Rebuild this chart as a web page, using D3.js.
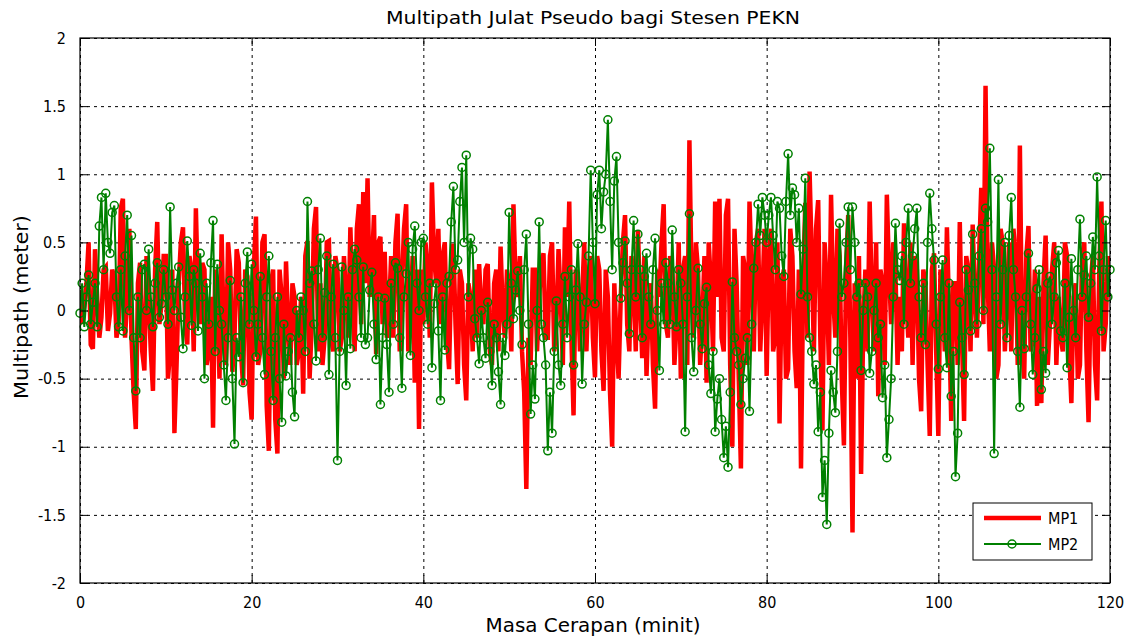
<!DOCTYPE html>
<html>
<head>
<meta charset="utf-8">
<script src="https://cdn.jsdelivr.net/npm/d3@7"></script>
<style>
body { margin:0; background:#fff; }
text { font-family: "DejaVu Sans Condensed", "DejaVu Sans", sans-serif; }
</style>
</head>
<body>
<div id="chart"></div>
<script>
// masa cerapan tiap 15 saat, 0 hingga 120 minit (satu baris = 10 minit)
var step = 0.25;
var mp1 = [
 0.15,-0.1,0.05,0.2,0.5,-0.25,-0.28,0.45,0.1,-0.2,-0.05,0.3,0.32,-0.15,-0.02,0.3,0.25,-0.2,-0.1,0.75,0.82,-0.2,0.1,0.6,-0.2,-0.6,-0.87,0.2,0.35,-0.3,-0.44,0.4,0.1,-0.3,-0.59,0.3,0.65,-0.1,0.05,0.4,
 0.4,-0.5,-0.3,0.3,-0.9,-0.4,0.2,0.5,0.61,-0.1,-0.25,0.4,0.3,-0.3,0.75,0.1,-0.1,0.35,0.3,-0.4,-0.3,0.1,-0.86,0.3,0.2,-0.5,0.56,-0.2,-0.4,0.5,0.3,-0.45,-0.2,0.45,0.35,-0.3,-0.55,0.3,0.25,-0.6,
 -0.8,0.3,0.69,-0.4,-0.3,0.5,0.56,-0.7,-1.03,0.2,0.3,-0.8,-1.05,0.3,0.1,-0.5,0.36,-0.1,-0.4,0.2,0.1,-0.4,-0.3,0.1,-0.61,0.4,0.51,-0.5,-0.1,0.6,0.76,-0.3,0.2,-0.4,-0.2,0.5,0.51,-0.2,-0.3,0.4,
 0.3,-0.3,-0.2,0.4,0.1,-0.2,0.61,0.1,-0.3,0.6,0.78,-0.1,0.87,0.2,0.97,0.1,0.3,0.7,-0.32,0.5,0.54,-0.1,0.43,-0.2,0.0,0.4,-0.2,0.5,0.71,-0.3,0.2,0.6,0.78,-0.3,-0.1,0.4,-0.53,0.3,-0.87,0.3,
 -0.1,0.5,0.3,-0.2,0.94,0.4,0.2,0.6,-0.1,0.4,0.5,-0.2,-0.43,0.3,0.49,-0.1,-0.54,0.3,0.2,-0.4,-0.66,0.2,0.1,-0.3,0.3,-0.2,0.34,0.0,-0.1,0.3,0.34,-0.3,-0.4,0.2,0.3,-0.3,0.47,0.0,-0.2,0.3,
 0.2,-0.3,0.78,0.2,0.1,0.4,-0.3,-0.6,-1.31,-0.2,-0.4,0.3,0.3,-0.3,0.1,0.35,0.42,-0.2,-0.2,0.4,0.5,-0.3,-0.1,0.45,0.1,-0.4,0.61,0.1,0.8,-0.2,-0.77,0.3,0.2,-0.3,0.1,0.5,-0.3,0.2,0.4,-0.2,
 -0.49,0.4,0.3,-0.3,-0.59,0.3,0.1,-0.6,-1.0,0.2,-0.2,-0.5,0.1,0.5,0.7,-0.1,-0.3,0.4,0.2,-0.3,0.59,0.1,-0.35,0.4,-0.48,0.0,0.2,-0.4,-0.72,0.3,0.1,0.5,0.78,-0.1,-0.2,0.4,0.3,-0.4,-0.1,0.5,
 -0.5,0.3,0.4,-0.4,1.25,0.2,-0.2,0.5,0.3,-0.4,-0.1,0.4,-0.53,0.5,0.2,-0.3,0.8,0.1,0.82,-0.2,-0.3,0.7,0.82,-0.4,-1.0,0.6,0.2,-0.5,-1.16,0.4,0.3,-0.4,0.8,0.3,-0.3,0.5,0.6,-0.3,0.1,0.6,
 -0.48,0.4,0.6,-0.3,-0.2,0.5,-0.83,0.2,0.3,-0.5,-0.43,0.6,0.4,-0.3,-0.57,0.3,-1.16,0.2,0.79,-0.2,1.02,0.4,-0.3,0.6,0.81,-0.2,-0.88,0.5,0.2,-0.4,0.85,0.1,-0.2,0.6,0.4,-0.5,-0.99,0.3,0.7,-0.2,
 -1.63,0.2,-0.5,0.4,-1.2,-0.1,0.3,-0.3,0.8,0.1,-0.3,0.5,-0.63,0.3,0.2,-0.4,0.85,0.3,-0.1,0.5,0.3,-0.4,0.1,-0.3,0.64,0.1,-0.2,0.5,-0.4,0.4,0.3,-0.5,-0.74,0.3,0.2,-0.4,-0.92,0.3,0.42,-0.3,
 -0.92,0.3,0.2,-0.3,0.61,0.0,-0.81,0.2,0.2,-0.4,0.65,-0.2,-0.81,0.4,0.3,-0.3,0.63,0.1,-0.2,0.4,0.9,-0.1,1.65,0.2,-0.3,0.5,0.3,-0.5,-0.4,0.6,0.5,-0.3,0.1,0.5,-0.3,0.6,0.4,-0.4,1.21,-0.2,
 -0.5,0.4,0.62,-0.3,-0.2,0.3,-0.7,0.1,-0.68,0.2,0.55,-0.4,-0.1,0.3,0.5,-0.4,0.1,-0.2,-0.3,0.5,0.4,-0.3,-0.68,0.1,0.2,-0.5,-0.4,0.4,0.5,-0.3,-0.82,0.2,0.4,-0.4,-0.66,0.3,0.8,-0.3,-0.1,0.4,
 0.1
];
var mp2 = [
 -0.02,0.2,-0.12,0.1,0.26,-0.1,0.06,0.2,-0.12,0.62,0.83,0.3,0.86,0.5,0.42,0.72,0.77,0.1,-0.12,0.3,-0.15,0.4,0.7,0.0,0.55,-0.2,-0.59,0.1,-0.2,0.3,0.34,0.0,0.45,0.1,-0.12,0.2,0.35,-0.05,0.05,0.3,
 0.1,-0.1,0.76,0.15,0.0,0.2,0.32,-0.05,-0.28,0.1,0.51,0.25,-0.11,0.3,0.2,-0.15,0.42,0.1,-0.5,0.2,-0.1,0.35,0.66,-0.3,0.34,0.0,-0.1,-0.4,-0.66,-0.2,0.22,-0.5,-0.98,-0.2,-0.34,0.1,-0.53,0.2,0.43,-0.1,
 0.34,0.0,-0.34,-0.1,0.25,-0.2,-0.47,0.1,0.4,-0.3,-0.66,-0.2,0.1,-0.5,-0.82,-0.1,-0.48,-0.3,-0.2,-0.6,-0.78,0.0,-0.2,0.1,0.0,-0.3,0.8,0.2,0.29,-0.1,-0.37,0.3,0.53,-0.2,0.13,0.4,-0.47,0.1,0.34,-0.2,
 -1.1,-0.3,0.32,0.0,-0.55,0.1,-0.28,0.3,0.45,0.37,0.1,-0.2,0.32,-0.25,-0.2,0.15,0.28,-0.1,-0.36,0.1,-0.69,-0.2,0.09,-0.25,-0.6,0.2,-0.1,0.35,0.31,-0.2,-0.57,0.1,0.27,0.5,-0.33,0.45,0.62,0.2,0.0,0.5,
 0.53,0.1,-0.1,0.2,-0.42,0.05,0.2,-0.15,-0.66,0.1,-0.29,0.2,0.25,0.65,0.91,0.3,0.37,0.8,1.05,0.5,1.14,0.1,0.53,0.45,-0.06,-0.2,-0.39,0.0,-0.2,-0.35,0.06,-0.3,-0.55,-0.1,-0.2,-0.45,-0.69,-0.2,-0.33,-0.1,
 0.72,0.2,-0.06,0.15,0.29,0.0,-0.25,0.3,0.56,-0.1,-0.76,-0.4,-0.65,0.0,0.65,-0.1,-0.2,-0.4,-1.03,-0.6,-0.9,-0.3,0.07,-0.4,-0.55,-0.1,0.25,-0.2,0.1,0.3,-0.4,0.15,0.49,0.1,-0.54,-0.1,0.06,0.4,1.03,0.5,
 0.05,0.85,1.03,0.6,0.87,1.0,1.4,0.8,0.3,0.95,1.13,0.5,0.09,0.35,0.51,0.2,-0.17,0.3,0.66,0.1,0.56,0.3,-0.2,0.25,0.42,0.1,-0.1,0.3,0.53,0.0,-0.44,0.2,-0.1,0.35,0.2,-0.1,0.59,0.1,-0.12,0.3,
 0.2,-0.1,-0.89,0.1,0.71,-0.2,-0.45,0.0,0.31,-0.1,-0.28,0.05,0.17,-0.4,-0.61,-0.3,-0.89,-0.65,-0.5,-0.8,-1.08,-0.85,-1.15,-0.6,0.21,-0.2,-0.3,-0.4,-0.69,-0.5,-0.35,-0.2,-0.74,-0.1,0.31,0.5,0.78,0.55,0.83,0.7,
 0.5,0.7,0.83,0.55,0.3,0.8,0.75,0.4,0.25,0.8,1.15,0.7,0.9,0.85,0.5,0.75,0.12,0.45,0.97,0.1,-0.2,-0.3,-0.54,-0.4,-0.89,-0.6,-1.37,-1.1,-1.57,-0.9,-0.44,-0.6,-0.75,-0.3,0.64,0.1,0.2,0.5,0.76,0.3,
 0.76,0.5,0.1,0.2,-0.44,0.0,0.2,0.1,-0.46,-0.3,0.0,0.2,-0.2,-0.1,-0.64,-0.4,-1.08,-0.8,-0.5,0.1,0.64,0.3,0.22,0.4,-0.1,0.5,0.75,0.2,0.4,0.6,0.75,0.1,-0.2,0.2,-0.25,0.5,0.86,0.6,0.37,-0.1,
 -0.43,0.1,0.37,-0.2,-0.42,0.2,-0.63,-0.3,-1.22,-0.9,0.06,-0.2,-0.47,0.3,0.15,-0.15,0.56,0.2,-0.1,0.4,0.6,0.0,0.75,0.65,1.19,0.3,-1.05,0.1,0.96,-0.1,0.3,0.5,-0.2,0.55,0.83,0.3,0.1,-0.3,-0.71,0.0,
 -0.28,0.1,0.42,-0.1,-0.47,-0.2,0.16,0.3,-0.58,-0.3,-0.46,0.2,0.25,-0.1,0.1,0.35,0.44,-0.15,-0.2,0.2,-0.42,-0.05,0.38,0.0,-0.2,0.3,0.67,0.1,0.26,0.4,-0.05,0.2,0.54,0.3,0.98,0.4,-0.15,0.3,0.66,0.1,
 0.3
];
var xTicks = [0,20,40,60,80,100,120];
var yTicks = [-2,-1.5,-1,-0.5,0,0.5,1,1.5,2];
var seriesNames = ["MP1","MP2"];

var W = 1137, H = 641;
var pL = 80, pR = 1110, pT = 38, pB = 583;

var svg = d3.select("#chart").append("svg")
            .attr("width", W)
            .attr("height", H);

var x = d3.scaleLinear().domain([0,120]).range([pL,pR]);
var y = d3.scaleLinear().domain([-2,2]).range([pB,pT]);

// grid
svg.append("g")
   .attr("transform","translate(0,"+pB+")")
   .call(d3.axisBottom(x).tickValues(xTicks).tickSize(-(pB-pT)).tickFormat(""))
   .call(function(g){ g.select(".domain").remove(); })
   .selectAll("line")
   .style("stroke","#000").style("stroke-dasharray","3,4").style("stroke-width",1);
svg.append("g")
   .attr("transform","translate("+pL+",0)")
   .call(d3.axisLeft(y).tickValues(yTicks).tickSize(-(pR-pL)).tickFormat(""))
   .call(function(g){ g.select(".domain").remove(); })
   .selectAll("line")
   .style("stroke","#000").style("stroke-dasharray","3,4").style("stroke-width",1);

svg.append("clipPath").attr("id","clip")
   .append("rect").attr("x",pL).attr("y",pT).attr("width",pR-pL).attr("height",pB-pT);

var line = d3.line()
             .x(function(d,i){ return x(i*step); })
             .y(function(d){ return y(d); });

svg.append("path")
   .datum(mp1)
   .attr("clip-path","url(#clip)")
   .attr("d", line)
   .style("fill","none")
   .style("stroke","#ff0000")
   .style("stroke-width",4.5);

svg.append("path")
   .datum(mp2)
   .attr("clip-path","url(#clip)")
   .attr("d", line)
   .style("fill","none")
   .style("stroke","#008000")
   .style("stroke-width",2);

svg.append("g").selectAll("circle")
   .data(mp2)
   .enter().append("circle")
   .attr("cx", function(d,i){ return x(i*step); })
   .attr("cy", function(d){ return y(d); })
   .attr("r", 4)
   .style("fill","none")
   .style("stroke","#008000")
   .style("stroke-width",1.5);

// kotak dan tick ke dalam
svg.append("rect")
   .attr("x",pL).attr("y",pT).attr("width",pR-pL).attr("height",pB-pT)
   .style("fill","none").style("stroke","#000").style("stroke-width",1.2);

var xb = svg.append("g").attr("transform","translate(0,"+pB+")")
            .call(d3.axisBottom(x).tickValues(xTicks).tickSize(-8).tickPadding(14).tickFormat(d3.format("d")));
var xt = svg.append("g").attr("transform","translate(0,"+pT+")")
            .call(d3.axisTop(x).tickValues(xTicks).tickSize(-8).tickFormat(""));
var yl = svg.append("g").attr("transform","translate("+pL+",0)")
            .call(d3.axisLeft(y).tickValues(yTicks).tickSize(-8).tickPadding(14).tickFormat(function(d){ return d; }));
var yr = svg.append("g").attr("transform","translate("+pR+",0)")
            .call(d3.axisRight(y).tickValues(yTicks).tickSize(-8).tickFormat(""));
[xb,xt,yl,yr].forEach(function(g){
  g.select(".domain").remove();
  g.selectAll("line").style("stroke","#000");
  g.selectAll("text").style("font-size","16px").style("fill","#000")
   .style("font-family","'DejaVu Sans Condensed', sans-serif");
});

svg.append("text")
   .attr("x", 593).attr("y", 24)
   .attr("text-anchor","middle")
   .attr("textLength", 414)
   .attr("lengthAdjust","spacingAndGlyphs")
   .style("font-size","18px")
   .text("Multipath Julat Pseudo bagi Stesen PEKN");

svg.append("text")
   .attr("x", 593).attr("y", 632)
   .attr("text-anchor","middle")
   .attr("textLength", 215)
   .attr("lengthAdjust","spacingAndGlyphs")
   .style("font-size","19px")
   .text("Masa Cerapan (minit)");

svg.append("text")
   .attr("transform","translate(28,307) rotate(-90)")
   .attr("text-anchor","middle")
   .attr("textLength", 184)
   .attr("lengthAdjust","spacingAndGlyphs")
   .style("font-size","19px")
   .text("Multipath (meter)");

// legenda
var lg = svg.append("g").attr("transform","translate(973,503)");
lg.append("rect").attr("width",119).attr("height",57)
  .style("fill","#fff").style("stroke","#000").style("stroke-width",1);
lg.append("line").attr("x1",11).attr("x2",68).attr("y1",15).attr("y2",15)
  .style("stroke","#ff0000").style("stroke-width",4.5);
lg.append("line").attr("x1",11).attr("x2",68).attr("y1",41).attr("y2",41)
  .style("stroke","#008000").style("stroke-width",2);
lg.append("circle").attr("cx",39).attr("cy",41).attr("r",4)
  .style("fill","none").style("stroke","#008000").style("stroke-width",1.5);
lg.selectAll("text.lab").data(seriesNames).enter().append("text")
  .attr("class","lab")
  .attr("x",75).attr("y",function(d,i){ return 21 + i*26; })
  .style("font-size","16px")
  .text(function(d){ return d; });
</script>
</body>
</html>
